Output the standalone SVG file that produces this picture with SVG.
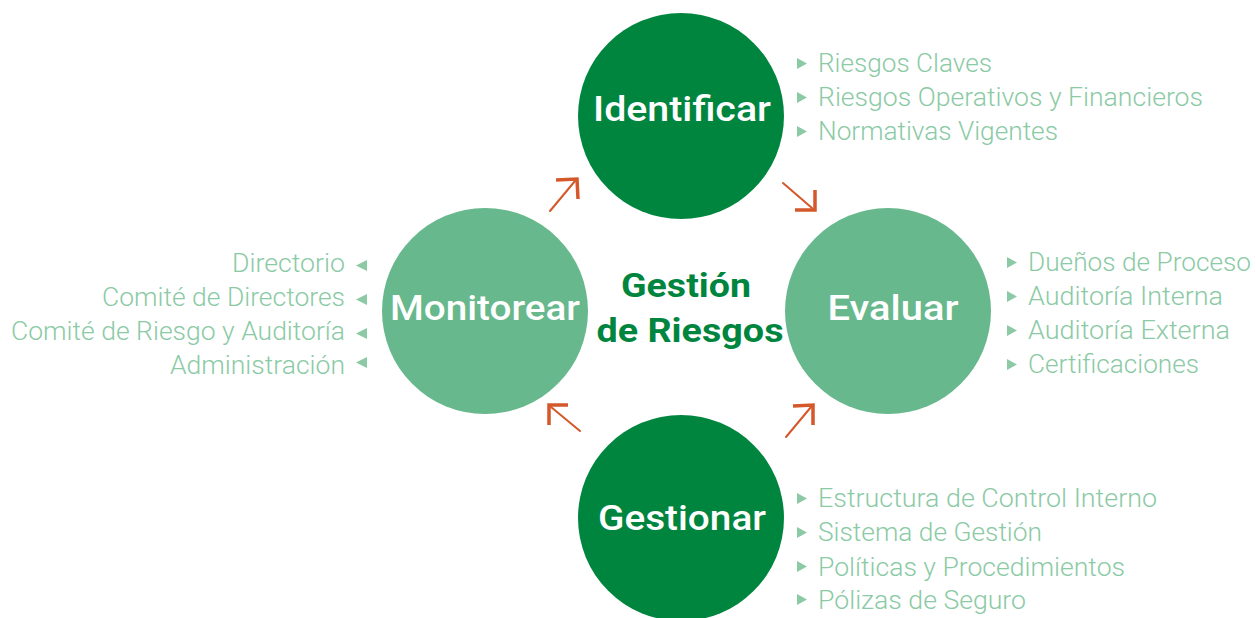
<svg xmlns="http://www.w3.org/2000/svg" width="1256" height="618" viewBox="0 0 1256 618">
<style>
.dark{fill:#00853f}
.light{fill:#67b88c}
.title{font-family:Roboto,"Liberation Sans",sans-serif;font-weight:500;font-size:35px;fill:#ffffff;text-anchor:middle}
.center{font-family:Roboto,"Liberation Sans",sans-serif;font-weight:700;font-size:34px;fill:#00853f;text-anchor:middle}
.item{font-family:Roboto,"Liberation Sans",sans-serif;font-weight:300;font-size:25px;fill:#8bcaa5}
.bul{fill:#8bcaa5}
.arr{fill:none;stroke:#d4582a;stroke-width:2;stroke-linecap:round}
.head{fill:none;stroke:#d4582a;stroke-width:3.5;stroke-linejoin:miter}
</style>
<rect width="1256" height="618" fill="#ffffff"/>
<g id="connectors">
<line class="arr" x1="550" y1="211" x2="575" y2="181"/>
<polyline class="head" points="556,180 577,179 578,199"/>
<line class="arr" x1="783" y1="183" x2="812" y2="208"/>
<polyline class="head" points="815,190 815,210 795,210"/>
<line class="arr" x1="580" y1="431" x2="551" y2="407"/>
<polyline class="head" points="568,405 549,405 549,425"/>
<line class="arr" x1="786" y1="437" x2="811" y2="407"/>
<polyline class="head" points="793,406 813,405 813,425"/>
</g>
<g id="center">
<text class="center" x="686" y="297" textLength="130" lengthAdjust="spacingAndGlyphs">Gestión</text>
<text class="center" x="690" y="342" textLength="187" lengthAdjust="spacingAndGlyphs">de Riesgos</text>
</g>
<g id="identificar">
<circle class="dark" cx="681" cy="116" r="103"/>
<text class="title" x="682" y="121" textLength="178" lengthAdjust="spacingAndGlyphs">Identificar</text>
<polygon class="bul" points="797,58 807,63.5 797,69"/>
<polygon class="bul" points="797,92 807,97.5 797,103"/>
<polygon class="bul" points="797,126 807,131.5 797,137"/>
<text class="item" x="818" y="72" textLength="174" lengthAdjust="spacingAndGlyphs">Riesgos Claves</text>
<text class="item" x="818" y="106" textLength="385" lengthAdjust="spacingAndGlyphs">Riesgos Operativos y Financieros</text>
<text class="item" x="818" y="140" textLength="240" lengthAdjust="spacingAndGlyphs">Normativas Vigentes</text>
</g>
<g id="evaluar">
<circle class="light" cx="888" cy="311" r="103"/>
<text class="title" x="893" y="320" textLength="131" lengthAdjust="spacingAndGlyphs">Evaluar</text>
<polygon class="bul" points="1007,257 1017,262.5 1007,268"/>
<polygon class="bul" points="1007,291 1017,296.5 1007,302"/>
<polygon class="bul" points="1007,325 1017,330.5 1007,336"/>
<polygon class="bul" points="1007,359 1017,364.5 1007,370"/>
<text class="item" x="1028" y="271" textLength="223" lengthAdjust="spacingAndGlyphs">Dueños de Proceso</text>
<text class="item" x="1028" y="305" textLength="195" lengthAdjust="spacingAndGlyphs">Auditoría Interna</text>
<text class="item" x="1028" y="339" textLength="202" lengthAdjust="spacingAndGlyphs">Auditoría Externa</text>
<text class="item" x="1028" y="373" textLength="171" lengthAdjust="spacingAndGlyphs">Certificaciones</text>
</g>
<g id="gestionar">
<circle class="dark" cx="681" cy="518" r="103"/>
<text class="title" x="682" y="530" textLength="168" lengthAdjust="spacingAndGlyphs">Gestionar</text>
<polygon class="bul" points="797,493 807,498.5 797,504"/>
<polygon class="bul" points="797,527 807,532.5 797,538"/>
<polygon class="bul" points="797,561 807,566.5 797,572"/>
<polygon class="bul" points="797,594 807,599.5 797,605"/>
<text class="item" x="818" y="507" textLength="339" lengthAdjust="spacingAndGlyphs">Estructura de Control Interno</text>
<text class="item" x="818" y="541" textLength="224" lengthAdjust="spacingAndGlyphs">Sistema de Gestión</text>
<text class="item" x="818" y="576" textLength="307" lengthAdjust="spacingAndGlyphs">Políticas y Procedimientos</text>
<text class="item" x="818" y="609" textLength="208" lengthAdjust="spacingAndGlyphs">Pólizas de Seguro</text>
</g>
<g id="monitorear">
<circle class="light" cx="485" cy="311" r="103"/>
<text class="title" x="485" y="320" textLength="190" lengthAdjust="spacingAndGlyphs">Monitorear</text>
<polygon class="bul" points="356,265.5 367,260 367,271"/>
<polygon class="bul" points="356,299.5 367,294 367,305"/>
<polygon class="bul" points="356,333.5 367,328 367,339"/>
<polygon class="bul" points="356,362.5 367,357 367,368"/>
<text class="item" x="232" y="272" textLength="113" lengthAdjust="spacingAndGlyphs">Directorio</text>
<text class="item" x="102" y="306" textLength="243" lengthAdjust="spacingAndGlyphs">Comité de Directores</text>
<text class="item" x="11" y="340" textLength="334" lengthAdjust="spacingAndGlyphs">Comité de Riesgo y Auditoría</text>
<text class="item" x="170" y="374" textLength="175" lengthAdjust="spacingAndGlyphs">Administración</text>
</g>
</svg>
